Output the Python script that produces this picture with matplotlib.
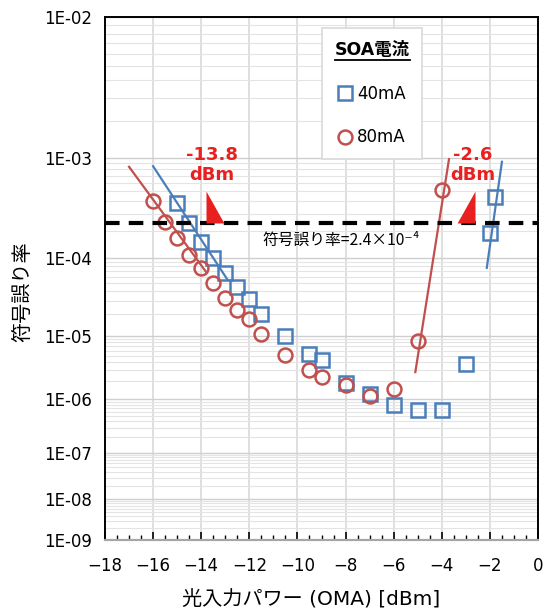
import numpy as np
import matplotlib
matplotlib.use('Agg')
import matplotlib.pyplot as plt
from matplotlib.lines import Line2D

plt.rcParams['font.family'] = ['DejaVu Sans', 'Noto Sans CJK JP']

# measured BER vs OMA input power
x40 = [-15, -14.5, -14, -13.5, -13, -12.5, -12, -11.5, -10.5, -9.5, -9, -8, -7, -6, -5, -4, -3, -2, -1.8]
ber40 = [3.9e-4, 2.4e-4, 1.5e-4, 1.0e-4, 6.6e-5, 4.5e-5, 3.2e-5, 2.0e-5, 9.8e-6, 5.4e-6, 4.3e-6,
         1.9e-6, 1.2e-6, 7.9e-7, 6.4e-7, 6.4e-7, 3.8e-6, 1.9e-4, 4.4e-4]
x80 = [-16, -15.5, -15, -14.5, -14, -13.5, -13, -12.5, -12, -11.5, -10.5, -9.5, -9, -8, -7, -6, -5, -4]
ber80 = [4.0e-4, 2.5e-4, 1.7e-4, 1.1e-4, 7.6e-5, 5.0e-5, 3.3e-5, 2.3e-5, 1.7e-5, 1.05e-5, 5.2e-6,
         3.0e-6, 2.3e-6, 1.7e-6, 1.15e-6, 1.5e-6, 8.5e-6, 5.2e-4]

# fit lines (straight in the BER scale)
fit40_low_x, fit40_low_y = [-16.0, -12.9], [8.5e-4, 5.5e-5]
fit80_low_x, fit80_low_y = [-17.0, -13.8], [8.4e-4, 6.9e-5]
fit80_high_x, fit80_high_y = [-5.1, -3.7], [2.8e-6, 9.8e-4]
fit40_high_x, fit40_high_y = [-2.13, -1.5], [7.7e-5, 9.3e-4]

threshold = 2.4e-4
sens_low, sens_high = -13.8, -2.6

xticks = list(range(-18, 1, 2))
yticks = [1e-2, 1e-3, 1e-4, 1e-5, 1e-6, 1e-7, 1e-8, 1e-9]
ytick_labels = ['1E-02', '1E-03', '1E-04', '1E-05', '1E-06', '1E-07', '1E-08', '1E-09']

blue = '#4a7ebb'
red = '#c0504d'
ann_red = '#e8201f'


def fwd(y):
    y = np.clip(np.asarray(y, dtype=float), 1e-300, 0.999999)
    return -np.log10(-np.log10(y))


def inv(f):
    return 10 ** (-(10 ** (-np.asarray(f, dtype=float))))


fig = plt.figure(figsize=(5.44, 6.15), dpi=100)
ax = fig.add_axes([0.193, 0.122, 0.796, 0.850])
ax.set_yscale('function', functions=(fwd, inv))

ax.plot(fit80_low_x, fit80_low_y, color=red, lw=1.6, zorder=3)
ax.plot(fit40_low_x, fit40_low_y, color=blue, lw=1.6, zorder=3)
ax.plot(fit80_high_x, fit80_high_y, color=red, lw=1.6, zorder=3)
ax.plot(fit40_high_x, fit40_high_y, color=blue, lw=1.6, zorder=3)

ax.plot(x40, ber40, ls='none', marker='s', ms=9.5, mfc='none', mec=blue, mew=1.8,
        label='40mA', zorder=4)
ax.plot(x80, ber80, ls='none', marker='o', ms=10, mfc='none', mec=red, mew=1.8,
        label='80mA', zorder=4)

ax.axhline(threshold, color='black', lw=3, dashes=(3.5, 2.2), zorder=5)

# sensitivity markers (right-angle triangles)
ax.plot([sens_low], [threshold], ls='none', marker=[(0, 0), (0, 2), (1.12, 0), (0, 0)],
        ms=46, color=ann_red, mew=0, zorder=6)
ax.plot([sens_high], [threshold], ls='none', marker=[(0, 0), (0, 2), (-1.12, 0), (0, 0)],
        ms=46, color=ann_red, mew=0, zorder=6)
ax.text(-13.55, 8.7e-4, '-13.8\ndBm', color=ann_red, fontsize=13, fontweight='bold',
        ha='center', va='center', linespacing=1.15)
ax.text(-2.72, 8.7e-4, '-2.6\ndBm', color=ann_red, fontsize=13, fontweight='bold',
        ha='center', va='center', linespacing=1.15)
ax.text(-8.17, 1.6e-4, '符号誤り率=2.4×10⁻⁴', fontsize=11.3, ha='center', va='center',
        family=['Noto Sans CJK JP', 'DejaVu Sans'])

ax.set_xlim(-18, 0)
ax.set_ylim(1e-9, 1e-2)
ax.set_xticks(xticks)
ax.set_xticks(np.arange(-18, 0.01, 0.5), minor=True)
ax.set_yticks(yticks)
ax.set_yticklabels(ytick_labels)
minor_y = [k * 10.0 ** e for e in range(-9, -2) for k in range(2, 10)]
ax.set_yticks(minor_y, minor=True)
ax.set_yticklabels([], minor=True)

ax.tick_params(axis='y', which='both', length=0, labelsize=12, pad=9)
ax.tick_params(axis='x', which='major', direction='in', length=6, width=1.2, labelsize=12, pad=12)
ax.tick_params(axis='x', which='minor', direction='in', length=3.5, width=1.0)

ax.grid(axis='x', which='major', color='#d9d9d9', lw=1.2)
ax.grid(axis='y', which='major', color='#cfcfcf', lw=1.0)
ax.grid(axis='y', which='minor', color='#e4e4e4', lw=0.8)
ax.set_axisbelow(True)

for s in ['top', 'left', 'right']:
    ax.spines[s].set_color('black')
    ax.spines[s].set_linewidth(1.4)
ax.spines['bottom'].set_color('#a6a6a6')
ax.spines['bottom'].set_linewidth(1.6)

ax.set_xlabel('光入力パワー (OMA) [dBm]', fontsize=14.5)
ax.set_ylabel('符号誤り率', fontsize=14.5)
ax.xaxis.set_label_coords(0.475, -0.115)
ax.xaxis.label.set_va('center')
ax.yaxis.set_label_coords(-0.19, 0.474)
ax.yaxis.label.set_va('center')

leg = ax.legend(title='SOA電流', loc='upper left', bbox_to_anchor=(0.502, 0.979),
                borderaxespad=0, fontsize=12, labelspacing=1.55, handlelength=0.7,
                handletextpad=0.4, borderpad=0.75, fancybox=False, edgecolor='#d9d9d9',
                framealpha=1)
leg.get_title().set_fontweight('bold')
leg.get_title().set_fontsize(12.5)
leg.get_frame().set_linewidth(1.2)
leg.set_zorder(7)

fig.canvas.draw()
bb = leg.get_title().get_window_extent()
fig.add_artist(Line2D([bb.x0, bb.x1], [bb.y0 - 1, bb.y0 - 1], transform=None,
                      color='black', lw=1.3, zorder=8))

fig.savefig('out.png', dpi=100)
